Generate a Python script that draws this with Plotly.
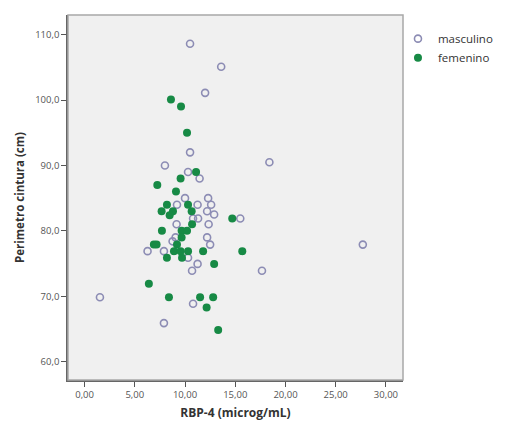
import plotly.graph_objects as go

# masculino (open circles)
masc_x = [10.5, 13.6, 12.0, 10.5, 8.0, 18.4, 10.3, 11.45, 10.0, 12.3, 9.2, 11.25, 12.6, 12.2,
          12.9, 10.8, 11.3, 15.5, 9.16, 12.35, 9.06, 12.2, 8.76, 12.5, 6.27, 7.9, 10.3, 11.25,
          10.7, 1.53, 10.8, 7.9, 27.7, 17.66]
masc_y = [108.6, 105.1, 101.1, 92.0, 90.0, 90.5, 89.0, 88.0, 85.0, 85.0, 84.0, 84.0, 84.0, 83.0,
          82.5, 81.9, 81.9, 81.9, 81.0, 81.0, 79.0, 79.0, 78.4, 77.9, 76.9, 76.9, 75.9, 74.95,
          73.9, 69.85, 68.85, 65.9, 77.9, 73.9]

# femenino (filled green)
fem_x = [8.6, 9.6, 10.2, 11.1, 9.56, 7.24, 9.1, 8.2, 10.3, 7.67, 8.8, 8.47, 10.66, 14.7, 10.7,
         7.7, 9.66, 10.2, 9.66, 6.9, 7.17, 9.2, 8.9, 9.56, 10.3, 11.8, 15.7, 8.2, 9.7, 12.9,
         6.4, 8.4, 11.5, 12.8, 12.15, 13.3]
fem_y = [100.1, 99.0, 95.0, 89.0, 88.0, 87.0, 86.0, 84.0, 84.0, 83.0, 83.0, 82.4, 83.0, 81.9, 81.0,
         80.0, 80.0, 80.0, 79.0, 77.9, 77.9, 77.9, 76.9, 76.9, 76.9, 76.9, 76.9, 75.9, 75.9, 74.95,
         71.9, 69.85, 69.85, 69.85, 68.3, 64.85]

x_ticks = [0, 5, 10, 15, 20, 25, 30]
x_labels = ["0,00", "5,00", "10,00", "15,00", "20,00", "25,00", "30,00"]
y_ticks = [60, 70, 80, 90, 100, 110]
y_labels = ["60,0", "70,0", "80,0", "90,0", "100,0", "110,0"]

fig = go.Figure()
fig.add_trace(go.Scatter(
    x=masc_x, y=masc_y, mode="markers", name="masculino",
    marker=dict(symbol="circle-open", size=7, color="#8c8cb4", line=dict(width=1.6, color="#8c8cb4")),
))
fig.add_trace(go.Scatter(
    x=fem_x, y=fem_y, mode="markers", name="femenino",
    marker=dict(symbol="circle", size=8, color="#178a45"),
))

fig.add_shape(type="rect", xref="paper", yref="paper", x0=0, y0=0, x1=1, y1=1,
              line=dict(color="#a8a8a8", width=1.5), layer="above")

fig.update_layout(
    width=512, height=430,
    margin=dict(l=68, r=109, t=15, b=47),
    paper_bgcolor="white", plot_bgcolor="#f0f0f0",
    font=dict(family="Open Sans, DejaVu Sans, sans-serif", color="#444"),
    showlegend=True,
    legend=dict(x=0.985, y=0.975, xanchor="left", yanchor="top",
                font=dict(size=11.5, color="#333"), itemwidth=30, tracegroupgap=0,
                bgcolor="rgba(0,0,0,0)"),
    xaxis=dict(range=[-1.65, 31.7], tickvals=x_ticks, ticktext=x_labels,
               showgrid=False, zeroline=False, showline=True, linecolor="#666", linewidth=1.5,
               ticks="outside", ticklen=5, tickcolor="#555", tickfont=dict(size=9.5, color="#555"),
               title=dict(text="<b>RBP-4 (microg/mL)</b>", font=dict(size=12, color="#333"), standoff=8)),
    yaxis=dict(range=[57.2, 113.0], tickvals=y_ticks, ticktext=y_labels,
               showgrid=False, zeroline=False, showline=True, linecolor="#666", linewidth=1.5,
               ticks="outside", ticklen=5, tickcolor="#555", tickfont=dict(size=9.5, color="#555"),
               title=dict(text="<b>Perimetro cintura (cm)</b>", font=dict(size=11.5, color="#333"), standoff=8)),
)

fig.write_html("out.html")
